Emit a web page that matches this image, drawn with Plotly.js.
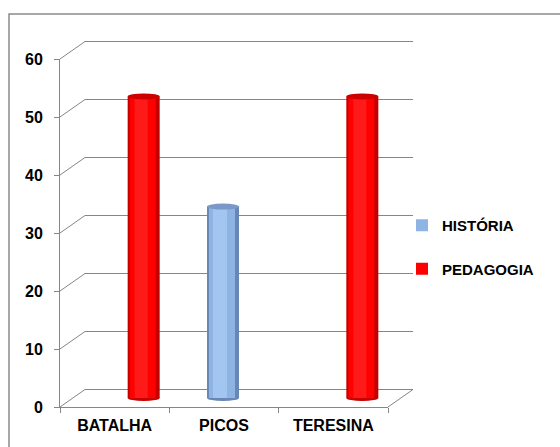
<!DOCTYPE html>
<html>
<head>
<meta charset="utf-8">
<script src="https://cdn.plot.ly/plotly-3.0.1.min.js"></script>
<style>html,body{margin:0;padding:0;background:#fff;}#chart{width:560px;height:447px;}</style>
</head>
<body>
<div id="chart"></div>
<script>
// ---- data ----
const categories = ['BATALHA', 'PICOS', 'TERESINA'];
const seriesNames = ['HISTÓRIA', 'PEDAGOGIA'];
const historia = [0, 33, 0];
const pedagogia = [52, 0, 52];
const yTicks = [0, 10, 20, 30, 40, 50, 60];

// ---- geometry (pixels) ----
const W = 560, H = 447;
const xL = 60, xR = 388;          // front floor edge
const y0 = 407, yTop = 59;        // front value 0 / value 60
const yMax = 60;
const s = (y0 - yTop) / yMax;     // px per unit
const dx = 25, dy = -17.5;        // depth of back wall
const mx = 14, my = -9;           // mid-depth offset (bars)
const px = p => p / W;
const py = p => 1 - p / H;
const catW = (xR - xL) / categories.length;
const u = p => p / catW;
const barW = 32, slot = 15;

const font = {family: 'Liberation Sans, Arial, sans-serif', size: 16, color: '#000', weight: 'bold'};
const gray = '#868686';

const styles = [
  {name: seriesNames[0], vals: historia, center: -slot,
   layers: [['#6886b6', 0, 32], ['#8db4e2', 2, 26], ['#a3c6f0', 6, 14]],
   top: '#7a98c8', bottom: '#6886b6'},
  {name: seriesNames[1], vals: pedagogia, center: slot,
   layers: [['#c20000', 0, 32], ['#ff0000', 2, 26], ['#ff1a1a', 7, 13]],
   top: '#cc0000', bottom: '#c80000'}
];

const traces = [];
// carrier traces so that the front axes and the back wall are drawn
traces.push({type: 'scatter', x: categories, y: [0, 0, 0], mode: 'none', xaxis: 'x', yaxis: 'y',
  showlegend: false, hoverinfo: 'skip'});
traces.push({type: 'scatter', x: categories, y: [0, 0, 0], mode: 'none', xaxis: 'x2', yaxis: 'y2',
  showlegend: false, hoverinfo: 'skip'});

const shapes = [];
styles.forEach((st, si) => {
  st.layers.forEach((ly, li) => {
    const off = u(st.center - barW / 2 + ly[1]);
    traces.push({
      type: 'bar', x: categories, y: st.vals, name: st.name,
      xaxis: 'x3', yaxis: 'y3',
      offset: off, width: u(ly[2]),
      marker: {color: ly[0], line: {width: 0}},
      showlegend: li === 1, legendgroup: 'g' + si, legendrank: si + 1,
      hoverinfo: 'skip'
    });
  });
  st.vals.forEach((v, i) => {
    if (v <= 0) return;
    const xa = i + u(st.center - barW / 2), xb = i + u(st.center + barW / 2);
    const r = 3 / s;
    shapes.push({type: 'circle', xref: 'x3', yref: 'y3', x0: xa, x1: xb, y0: v - r, y1: v + r,
      fillcolor: st.top, line: {width: 0}, layer: 'above'});
    shapes.push({type: 'circle', xref: 'x3', yref: 'y3', x0: xa, x1: xb, y0: -r, y1: r,
      fillcolor: st.bottom, line: {width: 0}, layer: 'below'});
  });
});

// 3D frame: diagonals from front axis to back wall
yTicks.forEach(v => {
  shapes.push({type: 'line', xref: 'paper', yref: 'paper',
    x0: px(xL), y0: py(y0 - v * s), x1: px(xL + dx), y1: py(y0 + dy - v * s),
    line: {color: gray, width: 1}});
});
shapes.push({type: 'line', xref: 'paper', yref: 'paper',
  x0: px(xR), y0: py(y0), x1: px(xR + dx), y1: py(y0 + dy), line: {color: gray, width: 1}});
// outer chart border
shapes.push({type: 'rect', xref: 'paper', yref: 'paper',
  x0: px(9), y0: py(14), x1: px(W + 10), y1: py(H + 10), line: {color: '#8a8a8a', width: 1.5}});

const midLo = -2, midHi = 62;
const backLo = -0.2, backHi = yMax + 0.2;
const layout = {
  width: W, height: H, autosize: false,
  margin: {l: 0, r: 0, t: 0, b: 0, pad: 0},
  paper_bgcolor: '#fff', plot_bgcolor: 'rgba(0,0,0,0)',
  barmode: 'overlay', showlegend: true,
  xaxis: {domain: [px(xL), px(xR)], range: [-0.5, 2.5], type: 'category', anchor: 'y',
    showline: true, linecolor: gray, linewidth: 1, ticks: 'outside', tickson: 'boundaries',
    ticklen: 5, tickcolor: gray, showgrid: false, zeroline: false, tickfont: font, ticklabelstandoff: 4, fixedrange: true},
  yaxis: {domain: [py(y0), py(yTop)], range: [0, yMax], anchor: 'x', tickvals: yTicks,
    showline: true, linecolor: gray, linewidth: 1, ticks: 'outside', ticklen: 5, tickcolor: gray,
    showgrid: false, zeroline: false, tickfont: font, ticklabelstandoff: 8, fixedrange: true},
  xaxis2: {domain: [px(xL + dx), px(xR + dx)], range: [-0.5, 2.5], type: 'category', anchor: 'y2', visible: false},
  yaxis2: {domain: [py(y0 + dy - backLo * s), py(y0 + dy - backHi * s)], range: [backLo, backHi], anchor: 'x2', tickvals: yTicks,
    showgrid: true, gridcolor: gray, gridwidth: 1, zeroline: false,
    showticklabels: false, ticks: '', showline: false, fixedrange: true},
  xaxis3: {domain: [px(xL + mx), px(xR + mx)], range: [-0.5, 2.5], type: 'category', anchor: 'y3', visible: false},
  yaxis3: {domain: [py(y0 + my - midLo * s), py(y0 + my - midHi * s)], range: [midLo, midHi], anchor: 'x3', visible: false},
  legend: {x: px(402), xanchor: 'left', y: py(209), yanchor: 'top', traceorder: 'grouped',
    tracegroupgap: 21, font: {family: font.family, size: 15, color: '#000', weight: 'bold'},
    bgcolor: 'rgba(0,0,0,0)', itemclick: false, itemdoubleclick: false},
  shapes: shapes
};

Plotly.newPlot('chart', traces, layout, {displayModeBar: false, staticPlot: true});
</script>
</body>
</html>
